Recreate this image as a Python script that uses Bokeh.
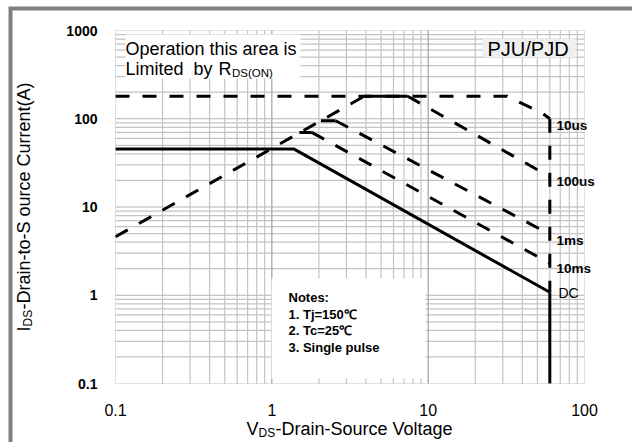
from bokeh.plotting import figure
from bokeh.models import Label, BoxAnnotation, Range1d
from bokeh.embed import file_html
from bokeh.resources import INLINE
import math

# ---------------- data ----------------
x_ticks = [0.1, 1, 10, 100]
x_tick_labels = ["0.1", "1", "10", "100"]
y_ticks = [0.1, 1, 10, 100, 1000]
y_tick_labels = ["0.1", "1", "10", "100", "1000"]

rds_v = [0.1, 3.9]
rds_i = [4.6, 180]
t10us_v = [0.1, 32, 54, 60]
t10us_i = [180, 180, 115, 100]
t100us_v = [3.9, 7.4, 60]
t100us_i = [180, 180, 22]
t1ms_v = [2.06, 2.56, 60]
t1ms_i = [95, 95, 4.9]
t10ms_v = [1.5, 1.8, 60]
t10ms_i = [70, 70, 2.3]
dc_v = [0.1, 1.38, 60]
dc_i = [45.5, 45.5, 1.08]
bv_dash_v = [60, 60]
bv_dash_i = [100, 1.08]
bv_solid_v = [60, 60]
bv_solid_i = [1.08, 0.1]

curve_names = ["10us", "100us", "1ms", "10ms", "DC"]
notes = ["Notes:", "1. Tj=150\u2103", "2. Tc=25\u2103", "3. Single pulse"]

# ---------------- layout (page pixels) ----------------
W, H = 632, 442
PL, PR, PT, PB = 115, 584, 30, 383          # plot area
X0, X1, Y0, Y1 = x_ticks[0], x_ticks[-1], y_ticks[0], y_ticks[-1]
DX = (PR - PL) / math.log10(X1 / X0)
DY = (PB - PT) / math.log10(Y1 / Y0)
FONT = "Liberation Sans"

def xd(px):
    return X0 * 10 ** ((px - PL) / DX)

def yd(py):
    return Y1 * 10 ** (-(py - PT) / DY)

p = figure(width=W, height=H, x_axis_type="log", y_axis_type="log",
           x_axis_location=None, y_axis_location=None,
           x_range=Range1d(xd(0), xd(W)), y_range=Range1d(yd(H), yd(0)),
           min_border=0, output_backend="svg", toolbar_location=None)
p.grid.visible = False
p.outline_line_color = None
p.background_fill_color = "white"
p.border_fill_color = "white"

def minor_list(lo, hi):
    out = []
    for e in range(lo, hi):
        for m in range(2, 10):
            out.append(m * 10.0 ** e)
    return out

minor_x = minor_list(-1, 2)
minor_y = minor_list(-1, 3)
major_x = x_ticks[1:-1]
major_y = y_ticks[1:-1]

# grid
p.multi_line([[v, v] for v in minor_x], [[Y0, Y1] for _ in minor_x],
             line_color="#c4c4c4", line_width=1.2)
p.multi_line([[X0, X1] for _ in minor_y], [[v, v] for v in minor_y],
             line_color="#c4c4c4", line_width=1.2)
p.multi_line([[v, v] for v in major_x], [[Y0, Y1] for _ in major_x],
             line_color="#a0a0a0", line_width=1.2)
p.multi_line([[X0, X1] for _ in major_y], [[v, v] for v in major_y],
             line_color="#b4b4b4", line_width=1.2)
p.add_layout(BoxAnnotation(left=X0, right=X1, bottom=Y0, top=Y1, fill_alpha=0,
                           line_color="#a0a0a0", line_width=1, level="overlay"))

# text boxes covering grid
boxes = [(125, 300, 34, 78, "white"),
         (482, 575, 38, 57, "#efefef"),
         (271, 425, 278, 378, "white")]
p.quad(left=[xd(b[0]) for b in boxes], right=[xd(b[1]) for b in boxes],
       top=[yd(b[2]) for b in boxes], bottom=[yd(b[3]) for b in boxes],
       fill_color=[b[4] for b in boxes], line_color=None)

# curves
DASH = "14 13"
LW = 3
p.line(rds_v, rds_i, line_color="black", line_width=LW, line_dash=DASH)
p.line(t10us_v, t10us_i, line_color="black", line_width=LW, line_dash=DASH)
for v, i in [(t100us_v, t100us_i), (t1ms_v, t1ms_i), (t10ms_v, t10ms_i)]:
    p.line(v[:2], i[:2], line_color="black", line_width=LW)
    p.line(v[1:], i[1:], line_color="black", line_width=LW, line_dash=DASH)
p.line(dc_v, dc_i, line_color="black", line_width=LW)
p.line(bv_dash_v, bv_dash_i, line_color="black", line_width=LW, line_dash=DASH)
p.line(bv_solid_v, bv_solid_i, line_color="black", line_width=LW)

# grey frame bars (top and left edge of the picture)
p.line([xd(10), xd(10), xd(W)], [yd(H), yd(8), yd(8)],
       line_color="#808080", line_width=4, line_join="miter")

def lab(text, x, y, size, style="normal", align="left", angle=0.0):
    p.add_layout(Label(x=x, y=y, text=text, text_font=FONT, text_font_size=size,
                       text_font_style=style, text_align=align,
                       text_baseline="middle", angle=angle, text_color="black"))

# tick labels
for t, s in zip(x_ticks, x_tick_labels):
    lab(s, t, yd(409), "16px", align="center")
for t, s in zip(y_ticks, y_tick_labels):
    lab(s, xd(97), t, "14px", style="bold", align="right")

# top-left box text
lab("Operation this area is", xd(125), yd(48), "18px")
lab("Limited", xd(125), yd(68), "18px")
lab("by", xd(193), yd(68), "18px")
lab("R", xd(218), yd(68), "18px")
lab("DS(ON)", xd(231.5), yd(72), "11.5px")
# PJU/PJD
lab("PJU/PJD", xd(487), yd(48), "20px")
# curve labels
for name, py in zip(curve_names, [125, 181, 240, 268, 292]):
    if name == "DC":
        lab(name, xd(558), yd(py), "14px")
    else:
        lab(name, xd(556), yd(py), "13.5px", style="bold")
# notes
for k, t in enumerate(notes):
    lab(t, xd(288), yd(297 + 16.7 * k), "13px", style="bold")

# x-axis title
lab("V", xd(246), yd(428), "18px")
lab("DS", xd(258), yd(432), "12px")
lab("-Drain-Source Voltage", xd(275), yd(428), "18px")
# y-axis title (rotated)
ang = math.pi / 2
lab("I", xd(23), yd(331), "18px", angle=ang)
lab("DS", xd(27), yd(326), "12px", angle=ang)
lab("-Drain-to-S ource Current(A)", xd(23), yd(309), "18px", angle=ang)

open("out.html", "w").write(file_html(p, INLINE))
